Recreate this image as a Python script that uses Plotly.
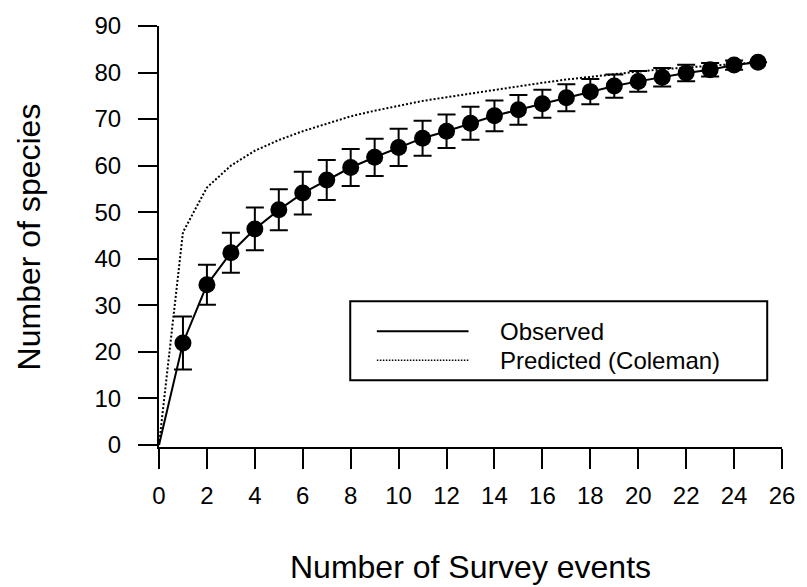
import plotly.graph_objects as go

events = list(range(1, 26))
observed = [21.9, 34.4, 41.3, 46.4, 50.5, 54.1, 56.9, 59.6, 61.8, 63.9, 65.9, 67.4, 69.1,
            70.7, 72.0, 73.3, 74.6, 75.9, 77.1, 78.1, 79.0, 79.9, 80.6, 81.6, 82.2]
obs_err = [5.7, 4.3, 4.3, 4.6, 4.4, 4.6, 4.3, 4.0, 4.0, 4.0, 3.75, 3.6, 3.55,
           3.3, 3.2, 3.0, 2.9, 2.7, 2.5, 2.25, 2.0, 1.75, 1.45, 1.0, 0.0]
pred_events = list(range(0, 26))
predicted = [0, 45.7, 55.3, 60.0, 63.2, 65.5, 67.4, 69.0, 70.6, 71.8, 72.9, 73.9, 74.7,
             75.5, 76.3, 77.0, 77.8, 78.5, 79.1, 79.7, 80.2, 80.7, 81.1, 81.5, 81.8, 82.2]
x_ticks = list(range(0, 27, 2))
y_ticks = list(range(0, 91, 10))
legend_labels = ["Observed", "Predicted (Coleman)"]

FONT = "Arial, Liberation Sans, sans-serif"
W, H = 807, 587
L, R, T, B = 159, 16, 25, 140
pw, ph = W - L - R, H - T - B

def px(x):
    return (x - L) / pw

def py(y):
    return (H - B - y) / ph

fig = go.Figure()
fig.add_trace(go.Scatter(x=pred_events, y=predicted, mode="lines",
                         line=dict(color="black", width=2, dash="2px,2px"),
                         name=legend_labels[1], showlegend=False))
fig.add_trace(go.Scatter(x=[0] + events, y=[0] + observed, mode="lines",
                         line=dict(color="black", width=2),
                         name=legend_labels[0], showlegend=False))
fig.add_trace(go.Scatter(x=events, y=observed, mode="markers",
                         marker=dict(color="black", size=17),
                         error_y=dict(type="data", array=obs_err, visible=True,
                                      color="black", thickness=2, width=9),
                         name=legend_labels[0], showlegend=False))

# legend box
bx0, by0, bx1, by1 = 353, 301, 776, 380
shapes = [dict(type="rect", xref="paper", yref="paper",
               x0=px(bx0), x1=px(bx1), y0=py(by1), y1=py(by0),
               line=dict(color="black", width=2), fillcolor="white", layer="above")]
shapes.append(dict(type="line", xref="paper", yref="paper",
                   x0=px(380), x1=px(473), y0=py(331), y1=py(331),
                   line=dict(color="black", width=2), layer="above"))
shapes.append(dict(type="line", xref="paper", yref="paper",
                   x0=px(380), x1=px(473), y0=py(360), y1=py(360),
                   line=dict(color="black", width=1.5, dash="1.5px,1.5px"), layer="above"))
annotations = [
    dict(text=legend_labels[0], xref="paper", yref="paper", x=px(503), y=py(331),
         xanchor="left", yanchor="middle", showarrow=False,
         font=dict(family=FONT, size=24, color="black")),
    dict(text=legend_labels[1], xref="paper", yref="paper", x=px(503), y=py(360),
         xanchor="left", yanchor="middle", showarrow=False,
         font=dict(family=FONT, size=24, color="black")),
    dict(text="Number of Survey events", xref="paper", yref="paper", x=0.5, y=py(567),
         xanchor="center", yanchor="middle", showarrow=False,
         font=dict(family=FONT, size=32, color="black")),
    dict(text="Number of species", xref="paper", yref="paper", x=px(27), y=0.5,
         xanchor="center", yanchor="middle", showarrow=False, textangle=-90,
         font=dict(family=FONT, size=32, color="black")),
]

fig.update_layout(
    width=W, height=H,
    margin=dict(l=L, r=R, t=T, b=B, pad=0),
    paper_bgcolor="white", plot_bgcolor="white",
    font=dict(family=FONT, size=24, color="black"),
    shapes=shapes, annotations=annotations,
    showlegend=False,
)
fig.update_xaxes(range=[0, 26], tickvals=x_ticks, ticks="outside", ticklen=20, tickwidth=2,
                 tickcolor="black", showline=True, linecolor="black", linewidth=2,
                 showgrid=False, zeroline=False, ticklabelstandoff=6,
                 tickfont=dict(family=FONT, size=24, color="black"))
fig.update_yaxes(range=[-0.45, 90], tickvals=y_ticks, ticks="outside", ticklen=19, tickwidth=2,
                 tickcolor="black", showline=True, linecolor="black", linewidth=2,
                 showgrid=False, zeroline=False, ticklabelstandoff=12,
                 tickfont=dict(family=FONT, size=24, color="black"))

fig.write_html("out.html", config={"displayModeBar": False},
               post_script="document.body.style.margin='0';document.body.style.padding='0';")
